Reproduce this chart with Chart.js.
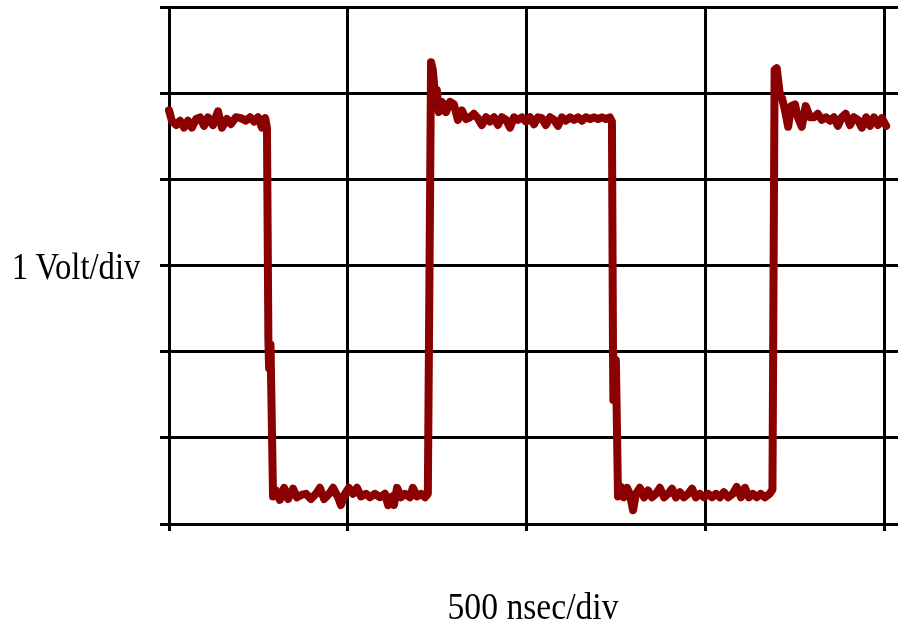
<!DOCTYPE html>
<html>
<head>
<meta charset="utf-8">
<script src="https://cdn.jsdelivr.net/npm/chart.js@4.4.1/dist/chart.umd.min.js"></script>
<style>
  html, body { margin: 0; padding: 0; background: #fff; }
  #wrap { position: relative; width: 899px; height: 634px; }
  #scope { position: absolute; left: 0; top: 0; }
  .lbl {
    position: absolute;
    font-family: 'Liberation Serif', 'DejaVu Serif', serif;
    font-size: 38px;
    color: #000;
    white-space: nowrap;
    transform-origin: center center;
  }
  #yLabel { left: 76px; top: 266px; transform: translate(-50%, -50%) scaleX(0.86); }
  #xLabel { left: 533px; top: 606px; transform: translate(-50%, -50%) scaleX(0.885); }
</style>
</head>
<body>
<div id="wrap">
  <canvas id="scope" width="899" height="634"></canvas>
  <div class="lbl" id="yLabel">1 Volt/div</div>
  <div class="lbl" id="xLabel">500 nsec/div</div>
</div>
<script>
(function () {
  // ====== 축 범위 (눈금 칸) ======
  const timeDivs = [0, 500, 1000, 1500, 2000];      // ns
  const voltDivs = [0, 1, 2, 3, 4, 5, 6];           // V

  // ====== 파형 ======
  const timeNs = [
    0, 8, 20, 31, 42, 53, 64, 76, 87, 98, 109, 123, 137, 148, 162, 173, 187, 201, 215, 227, 238, 249, 260, 269,
    274, 278, 280, 284, 291,
    299, 310, 322, 333, 347, 358, 372, 383, 397, 411, 422, 434, 448, 459, 473, 481, 492, 503, 515, 526, 537, 551,
    562, 576, 590, 604, 613, 624, 629, 638, 649, 660, 674, 682, 694, 705, 716, 724,
    733, 738, 744, 749, 755, 763, 775, 786, 797, 808, 819, 831, 842, 853, 864, 875, 887, 898, 909, 920, 931, 943,
    954, 965, 976, 987, 999, 1010, 1021, 1032, 1043, 1054, 1066, 1077, 1088, 1099, 1110, 1122, 1133, 1144, 1155,
    1166, 1178, 1189, 1200, 1211, 1222, 1233, 1239,
    1242, 1243, 1250, 1256,
    1264, 1272, 1281, 1289, 1298, 1306, 1317, 1329, 1340, 1351, 1362, 1373, 1385, 1396, 1407, 1418, 1429, 1440,
    1452, 1463, 1474, 1485, 1496, 1508, 1519, 1530, 1541, 1552, 1564, 1577, 1588, 1600, 1611, 1622, 1633, 1644,
    1655, 1667, 1680,
    1688, 1694, 1700, 1709, 1715, 1723, 1732, 1740, 1751, 1759, 1770, 1781, 1793, 1804, 1815, 1826, 1838, 1849,
    1860, 1871, 1882, 1893, 1905, 1916, 1927, 1938, 1950, 1961, 1972, 1983, 1994, 2006, 2017, 2028, 2039
  ];
  const volts = [
    4.80, 4.68, 4.63, 4.68, 4.60, 4.68, 4.60, 4.70, 4.72, 4.62, 4.72, 4.63, 4.79, 4.60, 4.70, 4.64, 4.72, 4.71, 4.68, 4.72, 4.67, 4.72, 4.60, 4.71,
    4.60, 2.14, 1.81, 2.08, 0.32,
    0.39, 0.28, 0.42, 0.29, 0.41, 0.31, 0.34, 0.35, 0.29, 0.35, 0.42, 0.29, 0.35, 0.42, 0.31, 0.22, 0.35, 0.42, 0.35, 0.42, 0.32, 0.35,
    0.31, 0.35, 0.31, 0.35, 0.22, 0.32, 0.22, 0.42, 0.31, 0.35, 0.31, 0.42, 0.32, 0.35, 0.31, 0.35,
    5.36, 5.27, 4.98, 5.04, 4.78, 4.90, 4.78, 4.90, 4.87, 4.69, 4.80, 4.70, 4.72, 4.76, 4.71, 4.63, 4.72, 4.67, 4.72, 4.63, 4.72, 4.69,
    4.60, 4.72, 4.69, 4.72, 4.67, 4.72, 4.64, 4.72, 4.71, 4.63, 4.72, 4.69, 4.62, 4.72, 4.68, 4.72, 4.69, 4.72, 4.68,
    4.72, 4.70, 4.72, 4.70, 4.72, 4.70, 4.72, 4.67,
    1.96, 1.44, 1.90, 0.32,
    0.43, 0.31, 0.42, 0.35, 0.16, 0.35, 0.42, 0.31, 0.39, 0.31, 0.35, 0.42, 0.31, 0.35, 0.41, 0.31, 0.37, 0.31,
    0.35, 0.41, 0.31, 0.35, 0.31, 0.35, 0.31, 0.35, 0.31, 0.37, 0.31, 0.35, 0.43, 0.31, 0.42, 0.31, 0.35, 0.31,
    0.35, 0.31, 0.35,
    0.40, 5.27, 5.29, 4.97, 4.94, 4.80, 4.61, 4.85, 4.87, 4.72, 4.61, 4.85, 4.72, 4.72, 4.76, 4.69, 4.72, 4.68,
    4.72, 4.62, 4.72, 4.76, 4.63, 4.72, 4.69, 4.60, 4.72, 4.62, 4.72, 4.63, 4.71, 4.62, 4.72, 4.68, 4.72
  ];

  const points = timeNs.map((t, i) => ({ x: t, y: volts[i] }));

  const gridBlack = { color: '#000', lineWidth: 3 };

  const ctx = document.getElementById('scope');
  new Chart(ctx, {
    type: 'line',
    data: {
      datasets: [{
        data: points,
        borderColor: '#8b0000',
        borderWidth: 8,
        borderCapStyle: 'round',
        borderJoinStyle: 'round',
        pointRadius: 0,
        tension: 0,
        fill: false,
        clip: false
      }]
    },
    options: {
      responsive: false,
      animation: false,
      devicePixelRatio: 1,
      layout: { padding: { left: 160, top: 7, right: 1, bottom: 103 } },
      plugins: { legend: { display: false }, tooltip: { enabled: false } },
      scales: {
        x: {
          type: 'linear',
          min: timeDivs[0],
          max: timeDivs[timeDivs.length - 1],
          ticks: { display: false, stepSize: timeDivs[1] - timeDivs[0] },
          grid: { ...gridBlack, tickLength: 7 },
          border: { color: '#000', width: 3 }
        },
        y: {
          min: voltDivs[0],
          max: voltDivs[voltDivs.length - 1],
          ticks: { display: false, stepSize: voltDivs[1] - voltDivs[0] },
          grid: { ...gridBlack, tickLength: 9 },
          border: { color: '#000', width: 3 }
        },
        yRight: {
          position: 'right',
          min: voltDivs[0],
          max: voltDivs[voltDivs.length - 1],
          ticks: { display: false, stepSize: voltDivs[1] - voltDivs[0] },
          grid: { ...gridBlack, tickLength: 14, drawOnChartArea: false },
          border: { color: '#000', width: 3 }
        }
      }
    }
  });
})();
</script>
</body>
</html>
